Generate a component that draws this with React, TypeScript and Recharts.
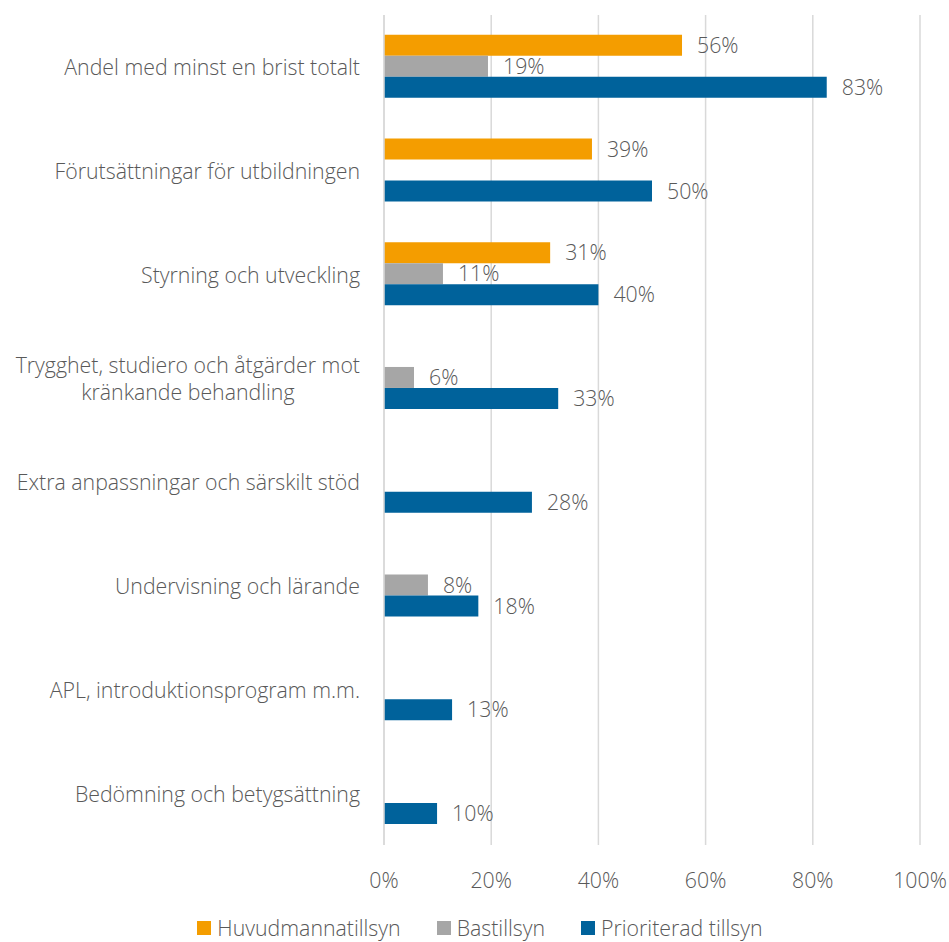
import { BarChart, Bar, XAxis, YAxis, CartesianGrid, Legend, LabelList } from "recharts";

const categories = [
  "Andel med minst en brist totalt",
  "Förutsättningar för utbildningen",
  "Styrning och utveckling",
  "Trygghet, studiero och åtgärder mot|kränkande behandling",
  "Extra anpassningar och särskilt stöd",
  "Undervisning och lärande",
  "APL, introduktionsprogram m.m.",
  "Bedömning och betygsättning",
];

const huvudmannatillsyn = [55.6, 38.8, 31, null, null, null, null, null];
const bastillsyn = [19.4, null, 11, 5.6, null, 8.2, null, null];
const prioriterad = [82.6, 50, 40, 32.5, 27.6, 17.6, 12.7, 9.9];

const xTicks = [0, 20, 40, 60, 80, 100];

const series = [
  { key: "huvud", name: "Huvudmannatillsyn", color: "#F49D00" },
  { key: "bas", name: "Bastillsyn", color: "#A6A6A6" },
  { key: "prio", name: "Prioriterad tillsyn", color: "#00629B" },
];

const data = categories.map((name, i) => ({
  name,
  huvud: huvudmannatillsyn[i],
  bas: bastillsyn[i],
  prio: prioriterad[i],
}));

const TEXT = "#595959";
const FONT = "'Open Sans', sans-serif";
const FS = 21.3;
const FW = 300;

function measure(s: string) {
  const c = document.createElement("canvas").getContext("2d");
  if (!c) return s.length * 10;
  c.font = `${FW} ${FS}px 'Open Sans'`;
  return c.measureText(s).width;
}

function CategoryTick(props: any) {
  const { x, y, payload } = props;
  const lines: string[] = String(payload.value).split("|");
  const right = x - 16;
  if (lines.length === 1) {
    return (
      <text x={right} y={y + 1} dy="0.35em" textAnchor="end" fill={TEXT} fontSize={FS} fontWeight={FW} fontFamily={FONT}>
        {lines[0]}
      </text>
    );
  }
  const w = measure(lines[0]);
  const cx = right - w / 2;
  const lh = 27;
  const top = y + 1 - ((lines.length - 1) * lh) / 2;
  return (
    <text x={cx} y={top} textAnchor="middle" fill={TEXT} fontSize={FS} fontWeight={FW} fontFamily={FONT}>
      {lines.map((l, i) => (
        <tspan key={i} x={cx} y={top + i * lh} dy="0.35em">
          {l}
        </tspan>
      ))}
    </text>
  );
}

function LegendContent() {
  return (
    <div
      style={{
        display: "flex",
        justifyContent: "center",
        gap: 36,
        paddingTop: 17,
        paddingLeft: 40,
        fontFamily: FONT,
        fontSize: FS,
        fontWeight: FW,
        color: TEXT,
        lineHeight: "22px",
      }}
    >
      {series.map((s) => (
        <div key={s.key} style={{ display: "flex", alignItems: "center" }}>
          <span style={{ width: 14, height: 14, background: s.color, marginRight: 6, display: "inline-block" }} />
          <span>{s.name}</span>
        </div>
      ))}
    </div>
  );
}

const pct = (v: any) => (v == null ? "" : `${Math.round(Number(v))}%`);

export default function App() {
  return (
    <div style={{ position: "absolute", left: 0, top: 0 }}>
      <BarChart
        width={949}
        height={942}
        data={data}
        layout="vertical"
        margin={{ top: 15, right: 29, bottom: 0, left: 0 }}
        barGap={0}
        barCategoryGap="19%"
      >
        <CartesianGrid horizontal={false} stroke="#D9D9D9" strokeWidth={1.5} />
        <XAxis
          type="number"
          domain={[0, 100]}
          ticks={xTicks}
          tickFormatter={(v) => `${v}%`}
          axisLine={false}
          tickLine={false}
          tick={{ fill: TEXT, fontSize: FS, fontWeight: FW, fontFamily: FONT }}
          tickMargin={22}
          height={55}
        />
        <YAxis
          type="category"
          dataKey="name"
          width={384}
          axisLine={{ stroke: "#D9D9D9", strokeWidth: 1.5 }}
          tickLine={false}
          tick={<CategoryTick />}
          interval={0}
        />
        <Legend verticalAlign="bottom" height={42} content={<LegendContent />} />
        {series.map((s) => (
          <Bar key={s.key} dataKey={s.key} name={s.name} fill={s.color} isAnimationActive={false}>
            <LabelList
              dataKey={s.key}
              position="right"
              offset={15}
              formatter={pct}
              fill={TEXT}
              fontSize={FS}
              fontWeight={FW}
              fontFamily={FONT}
            />
          </Bar>
        ))}
      </BarChart>
    </div>
  );
}
